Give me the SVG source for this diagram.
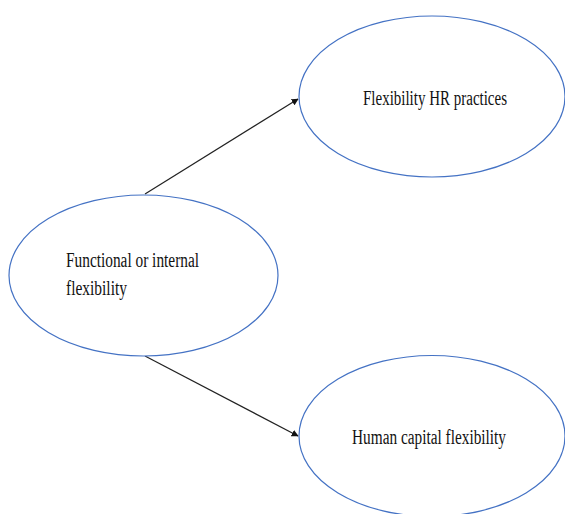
<svg xmlns="http://www.w3.org/2000/svg" width="565" height="514" viewBox="0 0 565 514">
  <style>
    .node { fill: #ffffff; stroke: #4472c4; stroke-width: 1.2; }
    .label { font-family: "Liberation Serif", "Times New Roman", serif; font-size: 20px; fill: #111111; }
    .edge { stroke: #222222; stroke-width: 1.2; fill: none; marker-end: url(#arrow); }
  </style>
  <defs>
    <marker id="arrow" viewBox="0 0 10 10" refX="9" refY="5" markerWidth="7" markerHeight="7" markerUnits="userSpaceOnUse" orient="auto">
      <path d="M0,0 L10,5 L0,10 z" fill="#111111"/>
    </marker>
  </defs>
  <rect width="565" height="514" fill="#ffffff"/>

  <g id="connectors">
    <line class="edge" x1="145" y1="194" x2="298" y2="99"/>
    <line class="edge" x1="145" y1="356" x2="298" y2="436"/>
  </g>

  <g id="functional-flexibility">
    <ellipse class="node" cx="143.5" cy="275.5" rx="134.5" ry="80.5"/>
    <text class="label" x="66" y="267" textLength="133" lengthAdjust="spacingAndGlyphs">Functional or internal</text>
    <text class="label" x="66" y="295" textLength="61" lengthAdjust="spacingAndGlyphs">flexibility</text>
  </g>

  <g id="hr-practices">
    <ellipse class="node" cx="432" cy="96.5" rx="133" ry="80.5"/>
    <text class="label" x="363" y="105" textLength="144" lengthAdjust="spacingAndGlyphs">Flexibility HR practices</text>
  </g>

  <g id="human-capital">
    <ellipse class="node" cx="432" cy="436" rx="133" ry="80.5"/>
    <text class="label" x="352" y="444" textLength="154" lengthAdjust="spacingAndGlyphs">Human capital flexibility</text>
  </g>
</svg>
